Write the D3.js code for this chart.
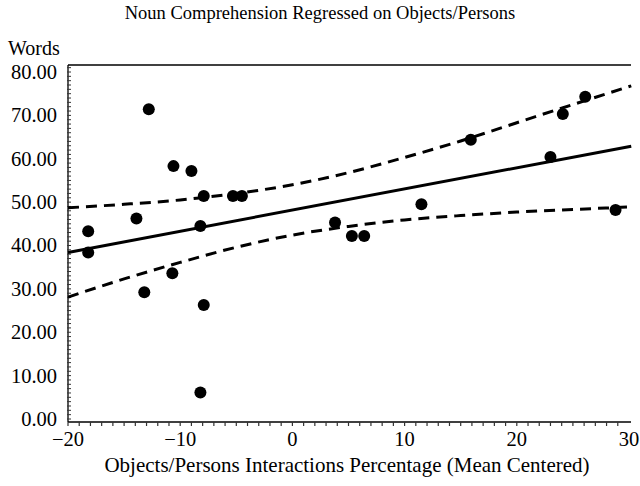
<!DOCTYPE html>
<html>
  <head>
    <style type="text/css">
      body { margin: 0; background: #fff; }
      text {
        font-family: "Liberation Serif", "Times New Roman", serif;
        fill: #000;
      }
    </style>
  </head>

  <body>
    <div id="canvas"></div>

    <script type="text/javascript" src="https://cdn.jsdelivr.net/npm/d3@7"></script>
    <script type="text/javascript">
      // observed points (x = objects/persons %, mean centered; y = words)
      var pointX = [-12.8, -10.6, -9.0, -7.9, -5.3, -4.5, -13.9, -18.2, -8.2, -18.2, -10.7,
                    -13.2, -7.9, -8.2, 26.1, 24.1, 15.9, 23.0, 11.5, 3.8, 5.3, 6.4, 28.8];
      var pointY = [71.4, 58.3, 57.2, 51.4, 51.4, 51.4, 46.2, 43.3, 44.5, 38.4, 33.6,
                    29.2, 26.3, 6.1, 74.3, 70.3, 64.4, 60.4, 49.5, 45.3, 42.2, 42.2, 48.2];

      // fitted line, read at both ends of the plot
      var fitX = [-20, 30.2];
      var fitY = [38.4, 62.9];

      // confidence band, read along the x axis
      var bandX = [-20, -15, -10, -5, 0, 5, 10, 15, 20, 25, 30.2];
      var bandUpper = [48.7, 49.5, 50.5, 52.0, 54.0, 56.8, 60.3, 64.1, 68.3, 72.5, 76.8];
      var bandLower = [28.1, 32.3, 36.1, 39.6, 42.4, 44.4, 45.9, 46.9, 47.7, 48.3, 48.9];

      var xTicks = [-20, -10, 0, 10, 20, 30];
      var yTicks = [0, 10, 20, 30, 40, 50, 60, 70, 80];

      (function() {
        var width = 640, height = 486;
        var left = 68, right = 631, top = 65, bottom = 422;

        var x = d3.scaleLinear().domain([-20, 30]).range([left, 629]);
        var y = d3.scaleLinear().domain([0, 80]).range([419, 72]);

        var svg = d3.select('#canvas').append('svg')
                    .attr('width', width)
                    .attr('height', height);

        var fmtX = function (d) { return d < 0 ? '\u2212' + Math.abs(d) : String(d); };

        // title
        svg.append('text')
          .attr('x', 320).attr('y', 19)
          .attr('text-anchor', 'middle')
          .style('font-size', '18.5px')
          .text('Noun Comprehension Regressed on Objects/Persons');

        svg.append('text')
          .attr('x', 8).attr('y', 55)
          .style('font-size', '20px')
          .text('Words');

        // top border
        svg.append('line')
          .attr('x1', left).attr('x2', right)
          .attr('y1', top).attr('y2', top)
          .attr('stroke', '#000').attr('stroke-width', 1.3);

        // y axis with small ticks every unit
        var yAxis = svg.append('g').attr('transform', 'translate(' + left + ',0)');
        yAxis.append('line')
          .attr('y1', top).attr('y2', bottom)
          .attr('stroke', '#000').attr('stroke-width', 1.3);
        yAxis.selectAll('line.minor')
          .data(d3.range(0, 82, 1))
          .enter().append('line')
            .attr('class', 'minor')
            .attr('x1', -1).attr('x2', 3)
            .attr('y1', function (d) { return y(d); })
            .attr('y2', function (d) { return y(d); })
            .attr('stroke', '#333').attr('stroke-width', 1);
        yAxis.selectAll('text')
          .data(yTicks)
          .enter().append('text')
            .attr('x', -11)
            .attr('y', function (d) { return y(d); })
            .attr('dy', '0.34em')
            .attr('text-anchor', 'end')
            .style('font-size', '20.5px')
            .text(function (d) { return d.toFixed(2); });

        // x axis, ticks every unit pointing down
        var xAxis = svg.append('g').attr('transform', 'translate(0,' + bottom + ')');
        xAxis.append('line')
          .attr('x1', left).attr('x2', right)
          .attr('stroke', '#000').attr('stroke-width', 1.3);
        xAxis.selectAll('line.minor')
          .data(d3.range(-20, 30, 1))
          .enter().append('line')
            .attr('class', 'minor')
            .attr('x1', function (d) { return x(d); })
            .attr('x2', function (d) { return x(d); })
            .attr('y1', 0).attr('y2', 4)
            .attr('stroke', '#333').attr('stroke-width', 1.2);
        xAxis.selectAll('text')
          .data(xTicks)
          .enter().append('text')
            .attr('x', function (d) { return x(d); })
            .attr('y', 24)
            .attr('text-anchor', 'middle')
            .style('font-size', '20.5px')
            .text(fmtX);

        svg.append('text')
          .attr('x', 347).attr('y', 472)
          .attr('text-anchor', 'middle')
          .style('font-size', '21px')
          .text('Objects/Persons Interactions Percentage (Mean Centered)');

        // lines
        var line = d3.line()
          .x(function (d) { return x(d[0]); })
          .y(function (d) { return y(d[1]); })
          .curve(d3.curveMonotoneX);

        svg.append('path')
          .datum(d3.zip(bandX, bandUpper))
          .attr('d', line)
          .attr('fill', 'none').attr('stroke', '#000')
          .attr('stroke-width', 3).attr('stroke-dasharray', '11,7');
        svg.append('path')
          .datum(d3.zip(bandX, bandLower))
          .attr('d', line)
          .attr('fill', 'none').attr('stroke', '#000')
          .attr('stroke-width', 3).attr('stroke-dasharray', '11,7');
        svg.append('path')
          .datum(d3.zip(fitX, fitY))
          .attr('d', line)
          .attr('fill', 'none').attr('stroke', '#000')
          .attr('stroke-width', 3);

        // points
        svg.selectAll('circle')
          .data(d3.zip(pointX, pointY))
          .enter().append('circle')
            .attr('r', 6)
            .attr('cx', function (d) { return x(d[0]); })
            .attr('cy', function (d) { return y(d[1]); })
            .attr('fill', '#000');
      })();
    </script>
  </body>
</html>
